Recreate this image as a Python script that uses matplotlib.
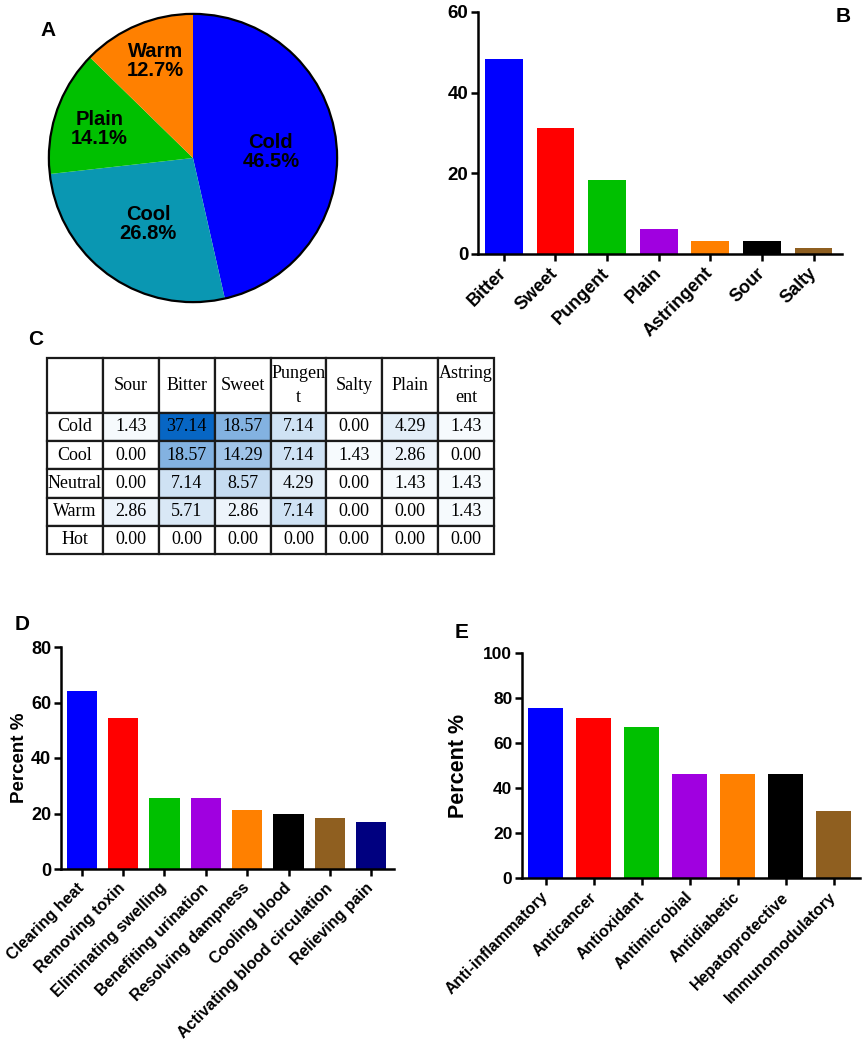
import numpy as np
import matplotlib.pyplot as plt
from matplotlib.colors import LinearSegmentedColormap

plt.rcParams['font.family'] = ['Liberation Sans', 'DejaVu Sans']
plt.rcParams['font.weight'] = 'bold'
plt.rcParams['axes.labelweight'] = 'bold'

# ---- data ----
pie_labels = ['Cold', 'Cool', 'Plain', 'Warm']
pie_pct = [46.5, 26.8, 14.1, 12.7]

taste_names = ['Bitter', 'Sweet', 'Pungent', 'Plain', 'Astringent', 'Sour', 'Salty']
taste_vals = [48.3, 31.3, 18.3, 6.3, 3.3, 3.3, 1.4]

table_cols = ['Sour', 'Bitter', 'Sweet', 'Pungen\nt', 'Salty', 'Plain', 'Astring\nent']
table_rows = ['Cold', 'Cool', 'Neutral', 'Warm', 'Hot']
table_cold = [1.43, 37.14, 18.57, 7.14, 0.00, 4.29, 1.43]
table_cool = [0.00, 18.57, 14.29, 7.14, 1.43, 2.86, 0.00]
table_neutral = [0.00, 7.14, 8.57, 4.29, 0.00, 1.43, 1.43]
table_warm = [2.86, 5.71, 2.86, 7.14, 0.00, 0.00, 1.43]
table_hot = [0.00, 0.00, 0.00, 0.00, 0.00, 0.00, 0.00]

effect_names = ['Clearing heat', 'Removing toxin', 'Eliminating swelling',
                'Benefiting urination', 'Resolving dampness', 'Cooling blood',
                'Activating blood circulation', 'Relieving pain']
effect_vals = [64.3, 54.3, 25.5, 25.5, 21.1, 19.8, 18.4, 17.0]

activity_names = ['Anti-inflammatory', 'Anticancer', 'Antioxidant', 'Antimicrobial',
                  'Antidiabetic', 'Hepatoprotective', 'Immunomodulatory']
activity_vals = [75.6, 71.2, 67.2, 46.3, 46.3, 46.3, 29.6]

# ---- styles ----
pie_colors = ['#0000FF', '#0A97B2', '#00C000', '#FF8000']
bar_colors = ['#0000FF', '#FF0000', '#00C000', '#A000E0', '#FF8000', '#000000', '#8F5F20', '#000080']
W, H = 865, 1047


def px_axes(fig, x0, y0, x1, y1):
    # pixel box (top-left origin) -> figure axes
    return fig.add_axes([x0 / W, 1 - y1 / H, (x1 - x0) / W, (y1 - y0) / H])


def bar_panel(ax, names, vals, ymax, ystep, ysize, xsize):
    n = len(vals)
    x = np.arange(n)
    ax.bar(x, vals, width=0.73, color=bar_colors[:n], edgecolor='none')
    ax.set_xlim(-0.5, n - 0.45)
    ax.set_ylim(0, ymax)
    ax.set_yticks(np.arange(0, ymax + 1, ystep))
    ax.set_xticks(x)
    ax.set_xticklabels(names, rotation=45, ha='right', va='center',
                       rotation_mode='anchor', fontsize=xsize)
    for s in ['top', 'right']:
        ax.spines[s].set_visible(False)
    for s in ['left', 'bottom']:
        ax.spines[s].set_linewidth(1.8)
    ax.tick_params(width=1.8, length=5, direction='out')
    ax.tick_params(axis='y', labelsize=ysize, pad=2)
    ax.tick_params(axis='x', pad=7)


fig = plt.figure(figsize=(W / 100, H / 100), dpi=100)

# ---- A: pie ----
ax_a = px_axes(fig, 46, 11, 340, 305)
ax_a.pie(pie_pct, colors=pie_colors, startangle=90, counterclock=False,
         wedgeprops=dict(linewidth=0))
ax_a.add_patch(plt.Circle((0, 0), 1, fill=False, lw=1.6, color='black'))
label_xy = [(0.54, 0.04), (-0.31, -0.46), (-0.65, 0.20), (-0.26, 0.67)]
for lab, pct, (lx, ly) in zip(pie_labels, pie_pct, label_xy):
    ax_a.text(lx, ly, f'{lab}\n{pct:.1f}%', ha='center', va='center',
              fontsize=14.5, linespacing=1.0)
ax_a.set_xlim(-1.02, 1.02)
ax_a.set_ylim(-1.02, 1.02)
ax_a.set_aspect('equal')

# ---- B: taste bars ----
ax_b = px_axes(fig, 478, 12, 842, 254)
bar_panel(ax_b, taste_names, taste_vals, 60, 20, ysize=13.5, xsize=13)

# ---- C: table ----
ax_c = px_axes(fig, 47, 358, 494, 554)
ax_c.axis('off')
table_vals = [table_cold, table_cool, table_neutral, table_warm, table_hot]
cmap = LinearSegmentedColormap.from_list('tbl', ['#FFFFFF', '#0766C4'])
vmax = max(max(r) for r in table_vals)
cell_text = [[''] + table_cols]
cell_cols = [['white'] * (len(table_cols) + 1)]
for name, row in zip(table_rows, table_vals):
    cell_text.append([name] + [f'{v:.2f}' for v in row])
    cell_cols.append(['white'] + [cmap(v / vmax) for v in row])
tbl = ax_c.table(cellText=cell_text, cellColours=cell_cols, cellLoc='center',
                 bbox=[0, 0, 1, 1])
tbl.auto_set_font_size(False)
for (r, c), cell in tbl.get_celld().items():
    cell.set_linewidth(1.6)
    cell.set_edgecolor('#1a1a1a')
    cell.set_height(55 if r == 0 else 28.3)
    t = cell.get_text()
    t.set_fontfamily('Liberation Serif')
    t.set_fontweight('normal')
    t.set_fontsize(13)
    t.set_linespacing(1.5)

# ---- D: effects ----
ax_d = px_axes(fig, 61, 647, 394, 869)
bar_panel(ax_d, effect_names, effect_vals, 80, 20, ysize=13, xsize=11.5)
ax_d.set_ylabel('Percent %', fontsize=13.5)
ax_d.yaxis.set_label_coords(-0.1, 0.5)

# ---- E: activities ----
ax_e = px_axes(fig, 522, 653, 860, 878)
bar_panel(ax_e, activity_names, activity_vals, 100, 20, ysize=12.5, xsize=11.5)
ax_e.set_ylabel('Percent %', fontsize=15.5)
ax_e.yaxis.set_label_coords(-0.157, 0.5)

# panel letters
for letter, (lx, ly) in zip('ABCDE', [(48, 31), (843, 16), (36, 340), (22, 625), (462, 633)]):
    fig.text(lx / W, 1 - ly / H, letter, fontsize=15, ha='center', va='center')

fig.savefig('out.png', dpi=100)
